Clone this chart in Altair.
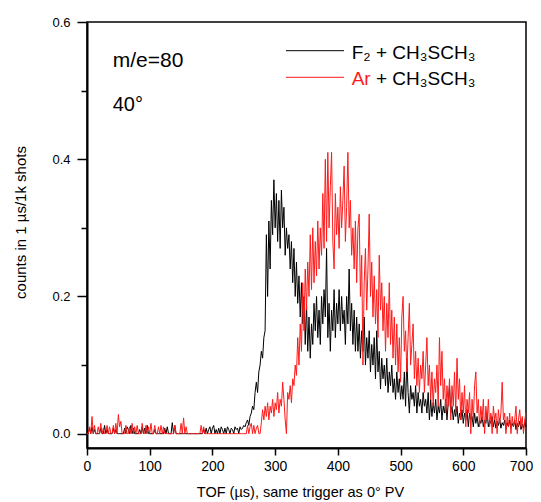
import altair as alt
import pandas as pd

# TOF bins every 2 us, from 0 to 700 us
# F2 + CH3SCH3 (black)
f2_counts = [
    0, 0, .008, 0, .01, 0, .006, 0, 0, 0, 0, .008, 0, 0, .012, 0, .006, 0, 0, 0, 0, .008, 0, .006, 0,
    0, 0, 0, 0, 0, .008, 0, .01, .006, 0, .012, 0, .008, 0, 0, 0, 0, .006, 0, .01, 0, .008, 0, .012, 0,
    0, 0, 0, 0, .006, 0, 0, 0, 0, 0, 0, 0, .008, 0, .01, 0, 0, 0, .016, 0, .012, 0, 0, 0, 0,
    0, 0, 0, 0, 0, 0, 0, 0, 0, 0, 0, 0, 0, 0, 0, 0, 0, 0, .006, 0, .008, 0, .006, .01, 0,
    .008, .012, 0, .006, 0, .008, 0, .01, .006, 0, .008, 0, .01, .006, 0, .008, .006, 0, .01, .006, .008, 0, .01, .006, .008,
    .012, .01, .016, .02, .012, .025, .03, .04, .035, .06, .075, .06, .09, .1, .12, .11, .14, .15, .29, .2, .31, .24, .34, .29, .37,
    .3, .35, .28, .34, .27, .355, .3, .33, .26, .3, .27, .29, .24, .28, .22, .27, .2, .25, .19, .23, .17, .22, .16, .2, .13,
    .19, .12, .17, .11, .16, .13, .19, .15, .2, .14, .18, .13, .2, .16, .21, .17, .27, .14, .19, .12, .18, .15, .21, .14, .19,
    .16, .21, .15, .2, .16, .18, .13, .2, .16, .24, .15, .19, .13, .18, .12, .17, .12, .16, .11, .15, .12, .17, .1, .14, .11,
    .15, .09, .13, .1, .14, .08, .15, .09, .12, .065, .11, .08, .1, .07, .11, .06, .09, .07, .1, .06, .08, .05, .09, .06, .08,
    .05, .07, .05, .09, .04, .11, .06, .03, .07, .05, .06, .04, .07, .03, .06, .04, .05, .03, .06, .04, .05, .03, .06, .02, .05,
    .025, .045, .03, .05, .02, .04, .03, .05, .02, .04, .03, .05, .02, .045, .07, .03, .04, .02, .035, .025, .04, .015, .03, .02, .035,
    .015, .03, .02, .035, .01, .03, .02, .025, .01, .03, .015, .025, .01, .02, .015, .025, .01, .02, .015, .03, .01, .02, .015, .025, .01,
    .02, .008, .018, .012, .022, .008, .016, .012, .02, .006, .016, .01, .02, .008, .015, .01, .02, .006, .015, .01, .018, .006, .014, .008, .016,
    .01,
]

# Ar + CH3SCH3 (red)
ar_counts = [
    0, 0, .01, 0, .025, 0, .012, 0, 0, .01, 0, .015, 0, .008, 0, 0, .012, 0, .01, 0, 0, .012, 0, .015, 0,
    .028, .01, .018, 0, 0, 0, .012, 0, 0, .01, 0, .015, 0, .01, 0, .012, 0, 0, 0, .015, 0, 0, .012, 0, .01,
    0, .015, 0, 0, .012, 0, 0, .01, 0, .012, 0, .01, 0, 0, 0, 0, 0, 0, 0, 0, .012, 0, 0, 0, 0,
    .015, 0, .023, 0, .01, 0, 0, 0, 0, 0, 0, 0, 0, 0, 0, 0, .012, 0, .01, 0, 0, 0, 0, 0, 0,
    0, 0, 0, 0, 0, 0, 0, 0, 0, 0, 0, 0, 0, 0, 0, 0, 0, 0, 0, 0, 0, 0, 0, 0, 0,
    0, 0, 0, .012, 0, .01, .015, 0, .012, 0, .008, .012, 0, 0, .016, .035, .02, .04, .025, .045, .02, .04, .03, .05, .025,
    .045, .035, .06, .03, .05, .04, .075, .05, .02, 0, .06, .05, .07, .045, .08, .07, .1, .085, .14, .1, .16, .12, .22, .15, .24,
    .18, .25, .2, .29, .21, .3, .22, .28, .23, .31, .24, .3, .26, .35, .27, .4, .28, .41, .3, .36, .41, .28, .24, .35, .29,
    .33, .27, .36, .3, .34, .39, .28, .33, .41, .3, .34, .26, .3, .24, .31, .22, .3, .32, .2, .26, .1, .22, .27, .18, .24,
    .32, .2, .25, .17, .23, .16, .21, .14, .26, .18, .22, .15, .2, .12, .19, .14, .22, .13, .18, .11, .17, .1, .16, .09, .14,
    .075, .17, .2, .12, .15, .09, .14, .19, .1, .13, .16, .08, .12, .07, .11, .06, .1, .08, .12, .06, .1, .14, .07, .1, .05,
    .09, .04, .08, .06, .1, .04, .14, .07, .12, .05, .08, .03, .07, .04, .08, .02, .07, .04, .09, .03, .11, .05, .08, .02, .06,
    .03, .07, .01, .05, .03, .06, 0, .05, .02, .07, .09, .03, .05, .01, .04, .02, .05, 0, .04, .02, .05, .01, .03, 0, .04,
    .02, .03, 0, .035, .015, .03, .075, .02, .03, 0, .025, .01, .03, 0, .025, .01, .02, .04, 0, .02, .035, .01, .025, 0, .02,
    .03,
]

x_ticks = list(range(0, 701, 50))
y_ticks = [0, 0.1, 0.2, 0.3, 0.4, 0.5, 0.6]

FONT = "Liberation Sans"

black_df = pd.DataFrame({"tof": [2 * i for i in range(len(f2_counts))], "counts": f2_counts})
red_df = pd.DataFrame({"tof": [2 * i for i in range(len(ar_counts))], "counts": ar_counts})

x_axis = alt.Axis(
    values=x_ticks,
    labelExpr="datum.value % 100 === 0 ? datum.label : ''",
    tickSize={"condition": {"test": "datum.value % 100 !== 0", "value": 4}, "value": 7},
    labelOffset={"condition": {"test": "datum.value === 700", "value": -5}, "value": 0},
    labelFontSize=14,
    labelPadding=4,
    labelFlush=False,
    labelOverlap=False,
    labelBound=False,
    grid=False,
    title="TOF (µs), same trigger as 0° PV",
    titleFontSize=14.5,
    titleFontWeight="normal",
    titleX=213,
    titleY=48,
    titleBaseline="alphabetic",
    titleAlign="center",
)
y_axis = alt.Axis(
    values=y_ticks,
    format=".1f",
    labelExpr="round(datum.value * 10) % 2 === 0 ? datum.label : ''",
    tickSize={"condition": {"test": "round(datum.value * 10) % 2 === 1", "value": 6}, "value": 10},
    labelFontSize=13,
    labelPadding=7,
    labelFlush=False,
    labelOverlap=False,
    grid=False,
    title="counts in 1 µs/1k shots",
    titleFontSize=15,
    titleFontWeight="normal",
    titleAngle=270,
    titleX=-62,
    titleY=200,
    titleBaseline="alphabetic",
    titleAlign="center",
)

xs = alt.Scale(domain=[0, 700], nice=False, zero=False)
ys = alt.Scale(domain=[-0.0209, 0.6], nice=False, zero=False)

black_line = alt.Chart(black_df).mark_line(color="#000000", strokeWidth=1).encode(
    x=alt.X("tof:Q", scale=xs, axis=x_axis),
    y=alt.Y("counts:Q", scale=ys, axis=y_axis),
)
red_line = alt.Chart(red_df).mark_line(color="#ff1a1a", strokeWidth=1).encode(
    x=alt.X("tof:Q", scale=xs),
    y=alt.Y("counts:Q", scale=ys),
)


def label(text, x, y, size, color="#000000"):
    return alt.Chart(pd.DataFrame({"t": [text]})).mark_text(
        align="left", baseline="alphabetic", fontSize=size, color=color, font=FONT
    ).encode(x=alt.value(x), y=alt.value(y), text="t:N")


def legend_line(y, color):
    return alt.Chart(pd.DataFrame({"s": [1]})).mark_rule(color=color, strokeWidth=1).encode(
        x=alt.value(199), x2=alt.value(257), y=alt.value(y)
    )


layers = [
    black_line,
    red_line,
    label("m/e=80", 25.7, 44.7, 21),
    label("40°", 25.7, 88.7, 20),
    legend_line(28.7, "#000000"),
    legend_line(55.3, "#ff1a1a"),
    label("F₂ + CH₃SCH₃", 264.7, 37.3, 19),
    label("Ar", 264.7, 63, 19, "#ff1a1a"),
    label("+ CH₃SCH₃", 289, 63, 19),
]

chart = alt.layer(*layers).properties(
    width=439,
    height=426,
    autosize=alt.AutoSizeParams(type="none"),
    padding={"left": 79, "top": 14, "right": 7, "bottom": 52},
).configure_view(
    stroke="#000000", strokeWidth=1.5
).configure_axis(
    labelFont=FONT,
    titleFont=FONT,
    labelColor="#000000",
    titleColor="#000000",
    domainColor="#000000",
    tickColor="#000000",
    domainWidth=2,
    tickWidth=1.5,
)

chart.save("out.html", embed_options={"renderer": "svg", "actions": False})
